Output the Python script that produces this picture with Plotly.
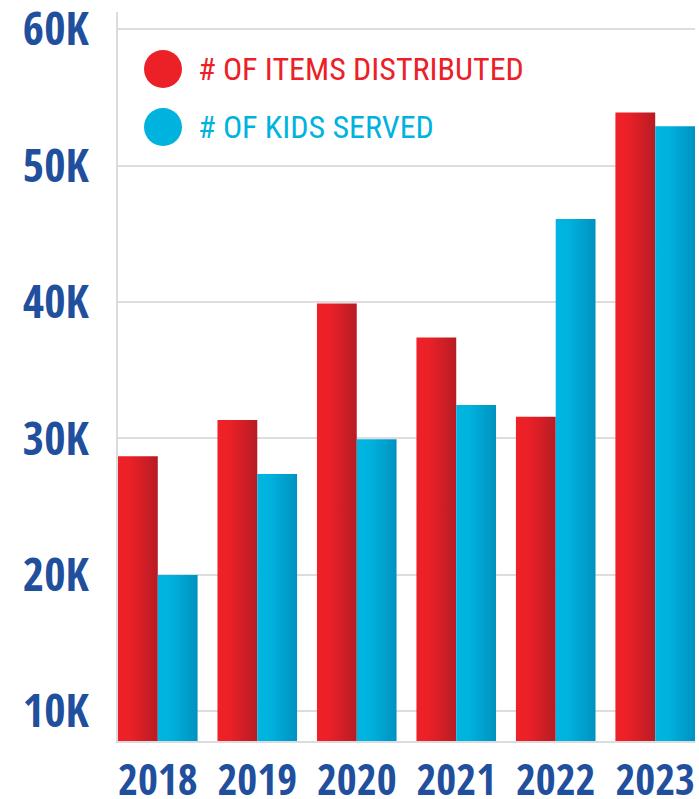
import plotly.graph_objects as go

years = ["2018", "2019", "2020", "2021", "2022", "2023"]
items_distributed = [28700, 31350, 39900, 37400, 31600, 53900]
kids_served = [20000, 27400, 29950, 32450, 46100, 52900]
y_tick_vals = [10000, 20000, 30000, 40000, 50000, 60000]
y_tick_text = ["10K", "20K", "30K", "40K", "50K", "60K"]
series_names = ["# OF ITEMS DISTRIBUTED", "# OF KIDS SERVED"]

RED = ["#ee2128", "#ec2027", "#b71c24"]
BLUE = ["#00b5e1", "#00b3df", "#0092c0"]
TICK_BLUE = "#1f4f9d"
FONT = "Open Sans Condensed, Roboto Condensed, DejaVu Sans Condensed, sans-serif"
LEG_FONT = "Roboto Condensed, Open Sans Condensed, DejaVu Sans Condensed, sans-serif"

half = 0.4  # half width of a year group in category units

fig = go.Figure()

def add_bars(values, offset, cols, name):
    for i, v in enumerate(values):
        x0 = i + offset
        x1 = x0 + half
        fig.add_trace(go.Scatter(
            x=[x0, x0, x1, x1, x0],
            y=[0, v, v, 0, 0],
            mode="lines",
            line=dict(width=0),
            fill="toself",
            fillgradient=dict(
                type="horizontal",
                colorscale=[[0, cols[0]], [0.3, cols[1]], [1, cols[2]]],
            ),
            hoverinfo="text",
            text=f"{years[i]} {name}: {v:,}",
            showlegend=False,
        ))

add_bars(items_distributed, -half, RED, series_names[0])
add_bars(kids_served, 0.0, BLUE, series_names[1])

FIG_W, FIG_H = 699, 799
plot_left, plot_right, plot_top, plot_bottom = 118, 695, 12, 741
W = plot_right - plot_left
H = plot_bottom - plot_top

def px_to_paper(x, y):
    return (x - plot_left) / W, (plot_bottom - y) / H

legend_items = [(series_names[0], RED[1], 69), (series_names[1], BLUE[1], 127)]
for name, col, ycen in legend_items:
    cx, cy = px_to_paper(163, ycen)
    fig.add_shape(type="circle", xref="paper", yref="paper",
                  xsizemode="pixel", ysizemode="pixel",
                  xanchor=cx, yanchor=cy, x0=-19, x1=19, y0=-19, y1=19,
                  fillcolor=col, line=dict(width=0))
    tx, ty = px_to_paper(196, ycen)
    fig.add_annotation(xref="paper", yref="paper", x=tx, y=ty,
                       xanchor="left", yanchor="middle", showarrow=False,
                       text=name, font=dict(family=LEG_FONT, size=32, color=col, weight="normal"))

fig.update_layout(
    width=FIG_W, height=FIG_H,
    margin=dict(l=plot_left, r=FIG_W - plot_right, t=plot_top, b=FIG_H - plot_bottom),
    paper_bgcolor="white", plot_bgcolor="white",
    showlegend=False,
    xaxis=dict(
        range=[-half, len(years) - 1 + half],
        tickvals=list(range(len(years))), ticktext=years,
        showgrid=False, zeroline=False,
        showline=True, linecolor="#dcdcdc", linewidth=2,
        tickfont=dict(family=FONT, size=43, color=TICK_BLUE, weight="bold"),
        ticks="", ticklabelstandoff=0, tickangle=0, automargin=False,
        ticklabeloverflow="allow",
    ),
    yaxis=dict(
        range=[7820, 61270],
        tickvals=y_tick_vals, ticktext=y_tick_text,
        showgrid=True, gridcolor="#dddddd", gridwidth=2,
        zeroline=False,
        showline=True, linecolor="#dcdcdc", linewidth=2,
        tickfont=dict(family=FONT, size=46, color=TICK_BLUE, weight="bold"),
        ticks="", ticklabelstandoff=18, automargin=False,
        ticklabeloverflow="allow",
    ),
)

fig.write_html(
    "out.html",
    config={"displayModeBar": False},
    post_script="document.body.style.margin='0';document.body.style.overflow='hidden';",
)
